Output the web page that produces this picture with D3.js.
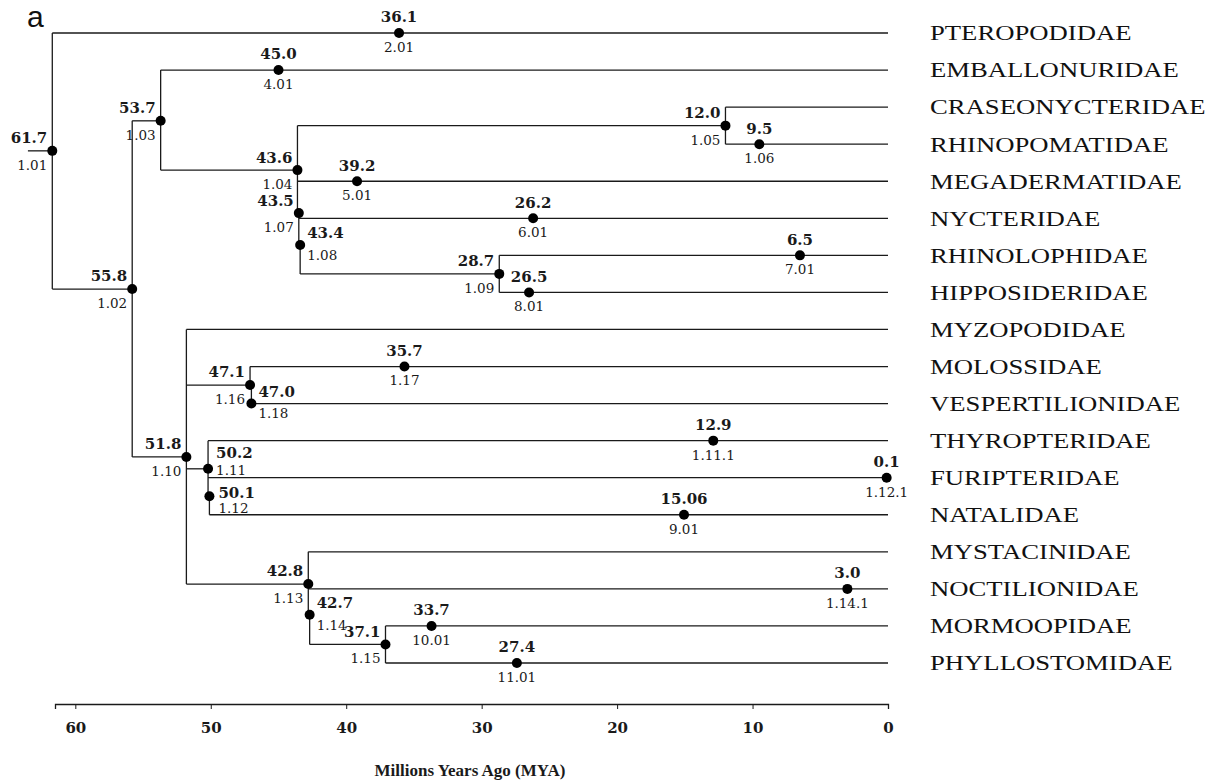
<!DOCTYPE html>
<html>
<head>
<meta charset="utf-8">
<script src="https://cdnjs.cloudflare.com/ajax/libs/d3/7.8.5/d3.min.js"></script>
<style>
	body { margin: 0; background: #fff; }
</style>
</head>
<body>
<div id="chart-area"></div>
<script>
// families, top to bottom
var families = ['PTEROPODIDAE', 'EMBALLONURIDAE', 'CRASEONYCTERIDAE', 'RHINOPOMATIDAE',
	'MEGADERMATIDAE', 'NYCTERIDAE', 'RHINOLOPHIDAE', 'HIPPOSIDERIDAE', 'MYZOPODIDAE',
	'MOLOSSIDAE', 'VESPERTILIONIDAE', 'THYROPTERIDAE', 'FURIPTERIDAE', 'NATALIDAE',
	'MYSTACINIDAE', 'NOCTILIONIDAE', 'MORMOOPIDAE', 'PHYLLOSTOMIDAE'];

var tickValues = [60, 50, 40, 30, 20, 10, 0];

// dated nodes: age (MYA), node code, row where the dot sits, side of the labels
var nodeAge = [61.7, 36.1, 53.7, 45.0, 55.8, 43.6, 12.0, 9.5, 39.2, 43.5, 26.2, 43.4, 28.7, 6.5, 26.5,
	51.8, 47.1, 35.7, 47.0, 50.2, 12.9, 50.1, 0.1, 15.06, 42.8, 3.0, 42.7, 37.1, 33.7, 27.4];
var nodeLabel = ['61.7', '36.1', '53.7', '45.0', '55.8', '43.6', '12.0', '9.5', '39.2', '43.5', '26.2', '43.4', '28.7', '6.5', '26.5',
	'51.8', '47.1', '35.7', '47.0', '50.2', '12.9', '50.1', '0.1', '15.06', '42.8', '3.0', '42.7', '37.1', '33.7', '27.4'];
var nodeCode = ['1.01', '2.01', '1.03', '4.01', '1.02', '1.04', '1.05', '1.06', '5.01', '1.07', '6.01', '1.08', '1.09', '7.01', '8.01',
	'1.10', '1.16', '1.17', '1.18', '1.11', '1.11.1', '1.12', '1.12.1', '9.01', '1.13', '1.14.1', '1.14', '1.15', '10.01', '11.01'];
var nodeRow = [3.18, 0, 2.37, 1, 6.91, 3.7, 2.5, 3, 4, 4.86, 5, 5.72, 6.5, 6, 7,
	11.44, 9.5, 9, 10, 11.76, 11, 12.5, 12, 13, 14.87, 15, 15.7, 16.5, 16, 17];
var nodeSide = ['l', 'c', 'l', 'c', 'l', 'l', 'l', 'c', 'c', 'l', 'c', 'r', 'l', 'c', 'c',
	'l', 'l', 'c', 'r', 'ru', 'c', 'rd', 'c', 'c', 'l', 'c', 'r', 'l', 'c', 'c'];

// horizontal branches: [from age, to age, row]
var hBranches = [
	[63.5, 61.7, 3.18],
	[61.7, 0, 0], [61.7, 55.8, 6.91],
	[55.8, 53.7, 2.37], [55.8, 51.8, 11.44],
	[53.7, 0, 1], [53.7, 43.6, 3.7],
	[43.6, 12.0, 2.5], [12.0, 0, 2], [12.0, 0, 3],
	[43.6, 0, 4], [43.5, 0, 5], [43.4, 28.7, 6.5],
	[28.7, 0, 6], [28.7, 0, 7],
	[51.8, 0, 8], [51.8, 47.1, 9.5], [47.1, 0, 9], [47.0, 0, 10],
	[51.8, 50.2, 11.76], [50.2, 0, 11], [50.2, 0, 12], [50.1, 0, 13],
	[51.8, 42.8, 14.87], [42.8, 0, 14], [42.8, 0, 15],
	[42.7, 37.1, 16.5], [37.1, 0, 16], [37.1, 0, 17]
];

// vertical branches: [age, top row, bottom row]
var vBranches = [
	[61.7, 0, 6.91], [55.8, 2.37, 11.44], [53.7, 1, 3.7],
	[43.6, 2.5, 4.86], [43.5, 4.86, 5.72], [43.4, 5.72, 6.5],
	[12.0, 2, 3], [28.7, 6, 7],
	[51.8, 8, 14.87], [47.1, 9, 9.5], [47.0, 9.5, 10],
	[50.2, 11, 12.5], [50.1, 12.5, 13],
	[42.8, 14, 15.7], [42.7, 15.7, 16.5], [37.1, 16, 17]
];

var width = 1212;
var height = 780;

var svg = d3.select('#chart-area')
	.append('svg')
	.attr('width', width)
	.attr('height', height);

var x = d3.scaleLinear()
	.domain([61.5, 0])
	.range([55, 888]);

var y = d3.scaleLinear()
	.domain([0, families.length - 1])
	.range([33, 663]);

var ink = '#1a1a1a';

// branches
svg.append('g')
	.selectAll('line')
	.data(hBranches)
	.enter()
		.append('line')
		.attr('x1', d => x(d[0]))
		.attr('x2', d => x(d[1]))
		.attr('y1', d => y(d[2]))
		.attr('y2', d => y(d[2]))
		.attr('stroke', ink)
		.attr('stroke-width', 1.3);

svg.append('g')
	.selectAll('line')
	.data(vBranches)
	.enter()
		.append('line')
		.attr('x1', d => x(d[0]))
		.attr('x2', d => x(d[0]))
		.attr('y1', d => y(d[1]))
		.attr('y2', d => y(d[2]))
		.attr('stroke', ink)
		.attr('stroke-width', 1.3);

// dated nodes
var nodes = nodeAge.map((a, i) => ({ age: a, label: nodeLabel[i], code: nodeCode[i], row: nodeRow[i], side: nodeSide[i] }));

var off = {
	c: { dx: 0, top: -16, bottom: 14, anchor: 'middle' },
	l: { dx: -5, top: -13, bottom: 14, anchor: 'end' },
	r: { dx: 7, top: -12, bottom: 10, anchor: 'start' },
	ru: { dx: 8, top: -16, bottom: 1, anchor: 'start' },
	rd: { dx: 9, top: -4, bottom: 12, anchor: 'start' }
};

var node = svg.append('g')
	.selectAll('g')
	.data(nodes)
	.enter()
		.append('g')
		.attr('transform', d => 'translate(' + x(d.age) + ',' + y(d.row) + ')');

node.append('circle')
	.attr('r', 5)
	.attr('fill', '#000');

node.append('text')
	.attr('x', d => off[d.side].dx)
	.attr('y', d => off[d.side].top)
	.attr('dy', '0.36em')
	.attr('text-anchor', d => off[d.side].anchor)
	.attr('font-family', 'DejaVu Serif')
	.attr('font-weight', 'bold')
	.attr('font-size', 15)
	.attr('fill', ink)
	.text(d => d.label);

node.append('text')
	.attr('x', d => off[d.side].dx)
	.attr('y', d => off[d.side].bottom)
	.attr('dy', '0.36em')
	.attr('text-anchor', d => off[d.side].anchor)
	.attr('font-family', 'DejaVu Serif')
	.attr('font-size', 13.5)
	.attr('fill', ink)
	.text(d => d.code);

// family names
svg.append('g')
	.selectAll('text')
	.data(families)
	.enter()
		.append('text')
		.attr('transform', (d, i) => 'translate(930,' + y(i) + ') scale(1.27,1)')
		.attr('dy', '0.35em')
		.attr('font-family', 'Liberation Serif')
		.attr('font-size', 21)
		.attr('fill', '#111')
		.text(d => d);

// time axis
var xAxis = d3.axisBottom(x)
	.tickValues(tickValues)
	.tickSize(5)
	.tickSizeOuter(5)
	.tickPadding(13)
	.tickFormat(d3.format('d'));

var axis = svg.append('g')
	.attr('transform', 'translate(0,704)')
	.call(xAxis);

axis.select('.domain').attr('stroke', ink).attr('stroke-width', 1.3);
axis.selectAll('.tick line').attr('stroke', ink);
axis.selectAll('text')
	.attr('font-family', 'DejaVu Serif')
	.attr('font-weight', 'bold')
	.attr('font-size', 15)
	.attr('fill', ink);

svg.append('text')
	.attr('x', 470)
	.attr('y', 776)
	.attr('text-anchor', 'middle')
	.attr('font-family', 'Liberation Serif')
	.attr('font-weight', 'bold')
	.attr('font-size', 17)
	.attr('fill', ink)
	.text('Millions Years Ago (MYA)');

svg.append('text')
	.attr('x', 27)
	.attr('y', 27)
	.attr('font-family', 'Liberation Sans')
	.attr('font-size', 30)
	.attr('fill', '#111')
	.text('a');
</script>
</body>
</html>
